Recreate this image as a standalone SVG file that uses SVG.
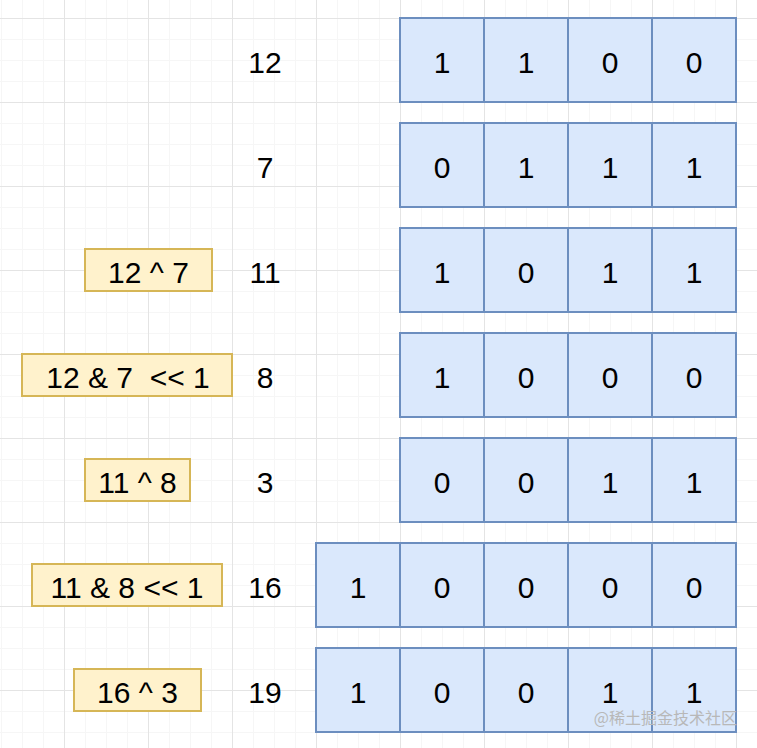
<svg xmlns="http://www.w3.org/2000/svg" width="757" height="748" viewBox="0 0 757 748">
<defs>
<pattern id="minor" x="64" y="18" width="21" height="21" patternUnits="userSpaceOnUse">
<path d="M0 0.5H21M0.5 0V21" fill="none" stroke="#f6f6f6" stroke-width="1"/>
</pattern>
<pattern id="major" x="64" y="18" width="84" height="84" patternUnits="userSpaceOnUse">
<path d="M0 0.5H84M0.5 0V84" fill="none" stroke="#e4e4e4" stroke-width="1"/>
</pattern>
</defs>
<style>
.c{fill:#dae8fc;stroke:#6c8ebf;stroke-width:2}
.y{fill:#fff2cc;stroke:#d6b656;stroke-width:2}
text{font-family:"Liberation Sans",Arial,sans-serif;font-size:30px;fill:#000;text-anchor:middle}
.wm{font-family:"Noto Sans CJK SC","Liberation Sans",sans-serif;font-size:16px;fill:#b8b8b8;text-anchor:end}
</style>
<rect width="757" height="748" fill="#ffffff"/>
<rect width="757" height="748" fill="url(#minor)"/>
<rect width="757" height="748" fill="url(#major)"/>

<g id="row12">
<text x="265" y="73">12</text>
<rect class="c" x="400" y="18" width="84" height="84"/><text x="442" y="73">1</text>
<rect class="c" x="484" y="18" width="84" height="84"/><text x="526" y="73">1</text>
<rect class="c" x="568" y="18" width="84" height="84"/><text x="610" y="73">0</text>
<rect class="c" x="652" y="18" width="84" height="84"/><text x="694" y="73">0</text>
</g>
<g id="row7">
<text x="265" y="178">7</text>
<rect class="c" x="400" y="123" width="84" height="84"/><text x="442" y="178">0</text>
<rect class="c" x="484" y="123" width="84" height="84"/><text x="526" y="178">1</text>
<rect class="c" x="568" y="123" width="84" height="84"/><text x="610" y="178">1</text>
<rect class="c" x="652" y="123" width="84" height="84"/><text x="694" y="178">1</text>
</g>
<g id="row11">
<rect class="y" x="85" y="249" width="127" height="42"/><text x="148.5" y="283">12 ^ 7</text>
<text x="265" y="283">11</text>
<rect class="c" x="400" y="228" width="84" height="84"/><text x="442" y="283">1</text>
<rect class="c" x="484" y="228" width="84" height="84"/><text x="526" y="283">0</text>
<rect class="c" x="568" y="228" width="84" height="84"/><text x="610" y="283">1</text>
<rect class="c" x="652" y="228" width="84" height="84"/><text x="694" y="283">1</text>
</g>
<g id="row8">
<rect class="y" x="22" y="354" width="210" height="42"/><text x="128" y="388" xml:space="preserve">12 &amp; 7  &lt;&lt; 1</text>
<text x="265" y="388">8</text>
<rect class="c" x="400" y="333" width="84" height="84"/><text x="442" y="388">1</text>
<rect class="c" x="484" y="333" width="84" height="84"/><text x="526" y="388">0</text>
<rect class="c" x="568" y="333" width="84" height="84"/><text x="610" y="388">0</text>
<rect class="c" x="652" y="333" width="84" height="84"/><text x="694" y="388">0</text>
</g>
<g id="row3">
<rect class="y" x="85" y="459" width="105" height="42"/><text x="137.5" y="493">11 ^ 8</text>
<text x="265" y="493">3</text>
<rect class="c" x="400" y="438" width="84" height="84"/><text x="442" y="493">0</text>
<rect class="c" x="484" y="438" width="84" height="84"/><text x="526" y="493">0</text>
<rect class="c" x="568" y="438" width="84" height="84"/><text x="610" y="493">1</text>
<rect class="c" x="652" y="438" width="84" height="84"/><text x="694" y="493">1</text>
</g>
<g id="row16">
<rect class="y" x="32" y="564" width="190" height="42"/><text x="127" y="598">11 &amp; 8 &lt;&lt; 1</text>
<text x="265" y="598">16</text>
<rect class="c" x="316" y="543" width="84" height="84"/><text x="358" y="598">1</text>
<rect class="c" x="400" y="543" width="84" height="84"/><text x="442" y="598">0</text>
<rect class="c" x="484" y="543" width="84" height="84"/><text x="526" y="598">0</text>
<rect class="c" x="568" y="543" width="84" height="84"/><text x="610" y="598">0</text>
<rect class="c" x="652" y="543" width="84" height="84"/><text x="694" y="598">0</text>
</g>
<g id="row19">
<rect class="y" x="74" y="669" width="127" height="42"/><text x="137.5" y="703">16 ^ 3</text>
<text x="265" y="703">19</text>
<rect class="c" x="316" y="648" width="84" height="84"/><text x="358" y="703">1</text>
<rect class="c" x="400" y="648" width="84" height="84"/><text x="442" y="703">0</text>
<rect class="c" x="484" y="648" width="84" height="84"/><text x="526" y="703">0</text>
<rect class="c" x="568" y="648" width="84" height="84"/><text x="610" y="703">1</text>
<rect class="c" x="652" y="648" width="84" height="84"/><text x="694" y="703">1</text>
</g>
<g id="connectors"></g>
<text class="wm" x="737" y="724">@稀土掘金技术社区</text>
</svg>
